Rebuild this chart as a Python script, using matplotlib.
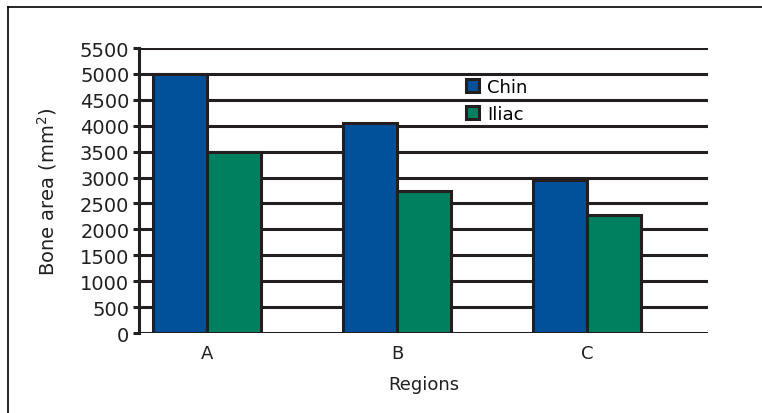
import matplotlib
matplotlib.use("Agg")
import matplotlib.pyplot as plt
from matplotlib.lines import Line2D
import numpy as np

regions = ["A", "B", "C"]
chin = [5000, 4060, 2960]
iliac = [3500, 2740, 2280]
yticks = list(range(0, 5501, 500))

blue = "#00509A"
green = "#00805F"
ink = "#231F20"

plt.rcParams["font.family"] = "DejaVu Sans"

fig = plt.figure(figsize=(7.62, 4.14), dpi=100)
ax = fig.add_axes([0.1824, 0.1932, 0.7468, 0.6884])

x = np.arange(len(regions))
w = 0.284
ax.bar(x - w / 2, chin, w, color=blue, edgecolor=ink, linewidth=2.2, zorder=3, label="Chin")
ax.bar(x + w / 2, iliac, w, color=green, edgecolor=ink, linewidth=2.2, zorder=3, label="Iliac")

ax.set_xlim(-0.358, 2.637)
ax.set_ylim(0, 5500)
ax.set_yticks(yticks)
ax.set_xticks(x)
ax.set_xticklabels(regions)
ax.yaxis.grid(True, color=ink, linewidth=2.2, zorder=0)
ax.set_axisbelow(True)
for s in ["top", "right", "bottom"]:
    ax.spines[s].set_visible(False)
ax.spines["left"].set_color(ink)
ax.spines["left"].set_linewidth(2.2)
ax.tick_params(axis="y", length=4, width=2.2, color=ink, labelsize=14, pad=3, labelcolor=ink)
ax.tick_params(axis="x", length=0, labelsize=13, pad=8, labelcolor=ink)

ax.set_ylabel("Bone area (mm$^2$)", fontsize=14, color=ink, labelpad=15)
ax.set_xlabel("Regions", fontsize=13, color=ink, labelpad=9)

ax.legend(loc="upper left", bbox_to_anchor=(0.574, 0.895), frameon=False,
          fontsize=13, handlelength=0.75, handleheight=0.75, handletextpad=0.45,
          labelspacing=0.5, borderpad=0, borderaxespad=0)

# outer frame, top and left edges only
fig.add_artist(Line2D([8 / 762, 1], [1 - 8 / 414] * 2, color="black", linewidth=1.2))
fig.add_artist(Line2D([8 / 762] * 2, [0, 1 - 8 / 414], color="black", linewidth=1.2))

fig.savefig("out.png", dpi=100)
